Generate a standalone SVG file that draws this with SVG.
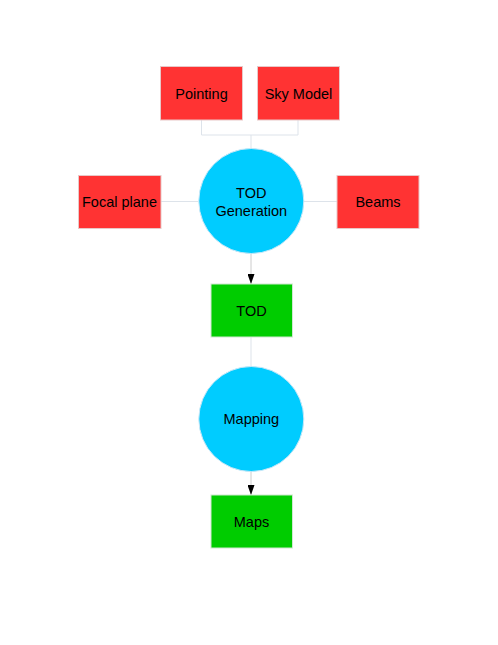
<svg xmlns="http://www.w3.org/2000/svg" width="498" height="645" viewBox="0 0 498 645">
<style>
.r{fill:#FF3333;stroke:#e8c8c8;stroke-width:1}
.g{fill:#00CC00;stroke:#d0e8d0;stroke-width:1}
.c{fill:#00CCFF;stroke:#c8e8f8;stroke-width:1}
.t{font-family:"Liberation Sans",Arial,sans-serif;font-size:14.5px;fill:#000;text-anchor:middle}
.l{fill:none;stroke:#dde3ea;stroke-width:1}
.a{fill:none;stroke:#cccccc;stroke-width:1}
</style>
<defs>
<marker id="ar" markerWidth="10" markerHeight="7" refX="10" refY="3.5" orient="auto" markerUnits="userSpaceOnUse">
<path d="M0,0 L10,3.5 L0,7 z" fill="#000"/>
</marker>
</defs>
<rect width="498" height="645" fill="#fff"/>
<g id="connectors">
<path class="l" d="M201.5,120 V135 H298 V120 M251,135 V150"/>
<path class="l" d="M161,201.5 H198"/>
<path class="l" d="M304,201.5 H337"/>
<path class="a" d="M251,253 V284" marker-end="url(#ar)"/>
<path class="l" d="M251,337 V367"/>
<path class="a" d="M251,471 V495" marker-end="url(#ar)"/>
</g>
<g id="pointing"><rect class="r" x="160.5" y="66.5" width="82" height="53.5"/><text class="t" x="201.5" y="98.5">Pointing</text></g>
<g id="skymodel"><rect class="r" x="257.5" y="66.5" width="82" height="53.5"/><text class="t" x="298.5" y="98.5">Sky Model</text></g>
<g id="focalplane"><rect class="r" x="78.5" y="175.5" width="82.5" height="53"/><text class="t" x="119.5" y="207">Focal plane</text></g>
<g id="beams"><rect class="r" x="337" y="175.5" width="82" height="53"/><text class="t" x="378" y="207">Beams</text></g>
<g id="todgen"><circle class="c" cx="251.3" cy="201" r="52.5"/><text class="t" x="251.3" y="198">TOD</text><text class="t" x="251.3" y="215.5">Generation</text></g>
<g id="tod"><rect class="g" x="211" y="284" width="81.5" height="53"/><text class="t" x="251.5" y="315.5">TOD</text></g>
<g id="mapping"><circle class="c" cx="251.3" cy="419" r="52.5"/><text class="t" x="251.3" y="424">Mapping</text></g>
<g id="maps"><rect class="g" x="211" y="495" width="81.5" height="53"/><text class="t" x="251.5" y="526.5">Maps</text></g>
</svg>
